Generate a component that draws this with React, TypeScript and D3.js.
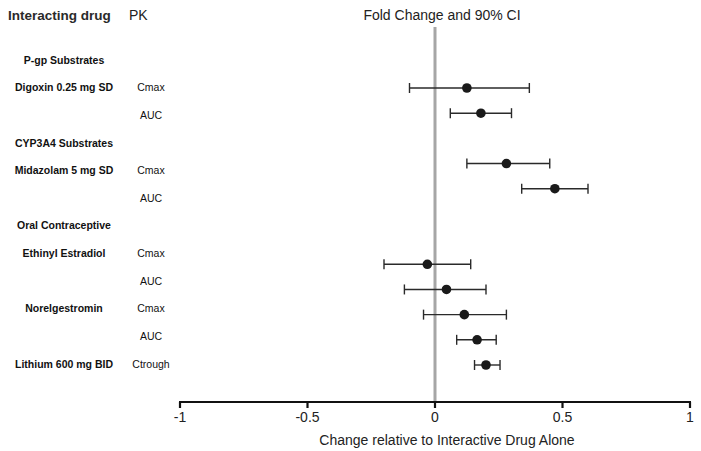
import * as d3 from "d3";

// rows of the table, top to bottom
const drugLabels = [
  "P-gp Substrates",
  "Digoxin 0.25 mg SD",
  "",
  "CYP3A4 Substrates",
  "Midazolam 5 mg SD",
  "",
  "Oral Contraceptive",
  "Ethinyl Estradiol",
  "",
  "Norelgestromin",
  "",
  "Lithium 600 mg BID",
];
const pkLabels = ["", "Cmax", "AUC", "", "Cmax", "AUC", "", "Cmax", "AUC", "Cmax", "AUC", "Ctrough"];

// fold change estimate and 90% CI (null for header rows)
const estimate = [null, 0.125, 0.18, null, 0.28, 0.47, null, -0.03, 0.045, 0.115, 0.165, 0.2];
const lower = [null, -0.1, 0.06, null, 0.125, 0.34, null, -0.2, -0.12, -0.045, 0.085, 0.155];
const upper = [null, 0.37, 0.3, null, 0.45, 0.6, null, 0.14, 0.2, 0.28, 0.24, 0.255];
// the plot places its points on its own slots (they drift from the label rows)
const plotSlot = [null, 0, 1, null, 3, 4, null, 7, 8, 9, 10, 11];

const xTicks = [-1, -0.5, 0, 0.5, 1];

const W = 701;
const H = 451;
const font = "'Liberation Sans', Arial, sans-serif";

export default function App() {
  const x = d3.scaleLinear().domain([-1, 1]).range([180, 690]);
  const rowY = d3.scaleLinear().domain([0, 11]).range([60, 364]);
  const slotY = d3.scaleLinear().domain([0, 11]).range([88, 365]);
  const axisY = 402;
  const capH = 5;

  return (
    <svg
      width={W}
      height={H}
      viewBox={`0 0 ${W} ${H}`}
      style={{ position: "absolute", left: 0, top: 0, background: "#fff" }}
      fontFamily={font}
    >
      {/* headers */}
      <text x={8} y={15} dy="0.35em" fontSize={13.5} fontWeight="bold" fill="#2a2a2a">
        Interacting drug
      </text>
      <text x={129} y={15} dy="0.35em" fontSize={14} fill="#222">
        PK
      </text>
      <text x={442} y={15} dy="0.35em" fontSize={14} fill="#222" textAnchor="middle">
        Fold Change and 90% CI
      </text>

      {/* row labels */}
      {drugLabels.map((d, i) =>
        d ? (
          <text
            key={"d" + i}
            x={64}
            y={rowY(i)}
            dy="0.35em"
            fontSize={10.5}
            fontWeight="bold"
            textAnchor="middle"
            fill="#111"
          >
            {d}
          </text>
        ) : null
      )}
      {pkLabels.map((d, i) =>
        d ? (
          <text key={"p" + i} x={151} y={rowY(i)} dy="0.35em" fontSize={10.5} textAnchor="middle" fill="#111">
            {d}
          </text>
        ) : null
      )}

      {/* reference line at 0 */}
      <line x1={x(0)} x2={x(0)} y1={27} y2={axisY} stroke="#a6a6a6" strokeWidth={3} />

      {/* CI bars and points */}
      {estimate.map((e, i) => {
        if (e === null) return null;
        const y = slotY(plotSlot[i]!);
        const lo = x(lower[i]!);
        const hi = x(upper[i]!);
        return (
          <g key={"e" + i}>
            <line x1={lo} x2={hi} y1={y} y2={y} stroke="#2a2a2a" strokeWidth={1.4} />
            <line x1={lo} x2={lo} y1={y - capH} y2={y + capH} stroke="#2a2a2a" strokeWidth={1.4} />
            <line x1={hi} x2={hi} y1={y - capH} y2={y + capH} stroke="#2a2a2a" strokeWidth={1.4} />
            <circle cx={x(e)} cy={y} r={4.8} fill="#1a1a1a" />
          </g>
        );
      })}

      {/* x axis */}
      <line x1={x(-1) - 1} x2={x(1) + 1} y1={axisY} y2={axisY} stroke="#111" strokeWidth={2.2} />
      {xTicks.map((t) => (
        <g key={"t" + t}>
          <line x1={x(t)} x2={x(t)} y1={axisY} y2={axisY + 6} stroke="#111" strokeWidth={2.2} />
          <text x={x(t)} y={417} dy="0.35em" fontSize={14} textAnchor="middle" fill="#222">
            {d3.format("")(t).replace("−", "-")}
          </text>
        </g>
      ))}
      <text x={447} y={440} dy="0.35em" fontSize={14} textAnchor="middle" fill="#222">
        Change relative to Interactive Drug Alone
      </text>
    </svg>
  );
}
